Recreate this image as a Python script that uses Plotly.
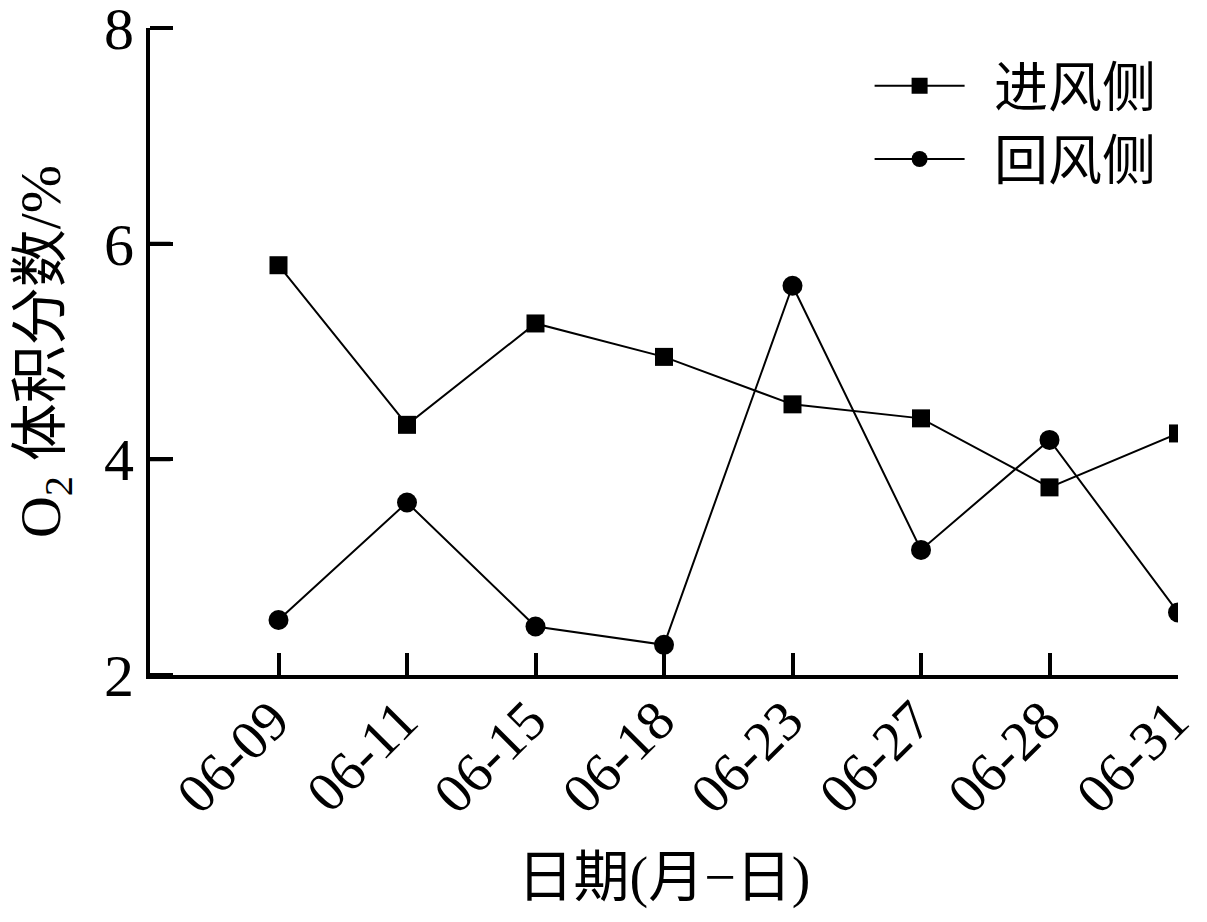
import plotly.graph_objects as go

# data
dates = ["06-09", "06-11", "06-15", "06-18", "06-23", "06-27", "06-28", "06-31"]
intake_o2 = [5.80, 4.32, 5.26, 4.95, 4.51, 4.38, 3.74, 4.24]   # 进风侧
return_o2 = [2.51, 3.60, 2.45, 2.28, 5.61, 3.16, 4.18, 2.58]   # 回风侧
y_ticks = [2, 4, 6, 8]
y_range = [2, 8]

serif = "Liberation Serif, Times New Roman, Noto Sans CJK SC, serif"
gap = "\u00a0\u2009"

fig = go.Figure()
fig.add_trace(go.Scatter(x=dates, y=intake_o2, name=gap + "进风侧", mode="lines+markers",
                         line=dict(color="black", width=2),
                         marker=dict(symbol="square", size=18, color="black")))
# second series on an overlay axis with the same scale; that axis draws
# the left ticks pointing into the plot (including the one at the top)
fig.add_trace(go.Scatter(x=dates, y=return_o2, name=gap + "回风侧", mode="lines+markers",
                         yaxis="y2",
                         line=dict(color="black", width=2),
                         marker=dict(symbol="circle", size=20, color="black")))

# page has ~8px body margin, so the figure is a bit smaller than the window
fig.update_layout(
    width=1199, height=914,
    margin=dict(l=142, r=29, t=20, b=247),
    plot_bgcolor="white", paper_bgcolor="white",
    font=dict(family=serif, color="black", size=50),
    showlegend=True,
    legend=dict(x=0.70, y=0.975, xanchor="left", yanchor="top",
                bgcolor="rgba(0,0,0,0)", font=dict(size=54, family=serif),
                itemwidth=90, tracegroupgap=0),
    xaxis=dict(
        type="category", range=[-1, 7], automargin=False,
        showline=True, linecolor="black", linewidth=4,
        ticks="inside", ticklen=22, tickwidth=4, tickcolor="black",
        tickangle=-45, tickfont=dict(size=56, family=serif),
        ticklabelstandoff=-14, ticklabelshift=-6,
        showgrid=False, zeroline=False,
        title=dict(text="日期(月−日)", font=dict(size=56, family=serif), standoff=34),
    ),
    yaxis=dict(
        range=y_range, automargin=False,
        tickmode="array", tickvals=y_ticks, ticktext=[str(v) for v in y_ticks],
        ticklabeloverflow="allow",
        showline=True, linecolor="black", linewidth=4,
        ticks="inside", ticklen=22, tickwidth=4, tickcolor="black",
        tickfont=dict(size=60, family=serif),
        showgrid=False, zeroline=False,
        title=dict(text="O<sub>2</sub> 体积分数/%", font=dict(size=58, family=serif), standoff=28),
    ),
    yaxis2=dict(
        overlaying="y", side="right", anchor="free", position=0,
        range=y_range, tickmode="array", tickvals=y_ticks, showticklabels=False,
        ticks="outside", ticklen=22, tickwidth=4, tickcolor="black",
        showline=False, showgrid=False, zeroline=False, automargin=False,
    ),
)

# tick stubs on the left axis drawn as arrow-less annotation lines (top layer)
for v in y_ticks:
    fig.add_annotation(x=0, xref="x domain", y=v, yref="y", text="",
                       showarrow=True, arrowhead=0, arrowwidth=4, arrowcolor="black",
                       axref="pixel", ayref="pixel", ax=22, ay=0,
                       standoff=0, startstandoff=0)

fig.write_html("out.html", config={"staticPlot": True})
